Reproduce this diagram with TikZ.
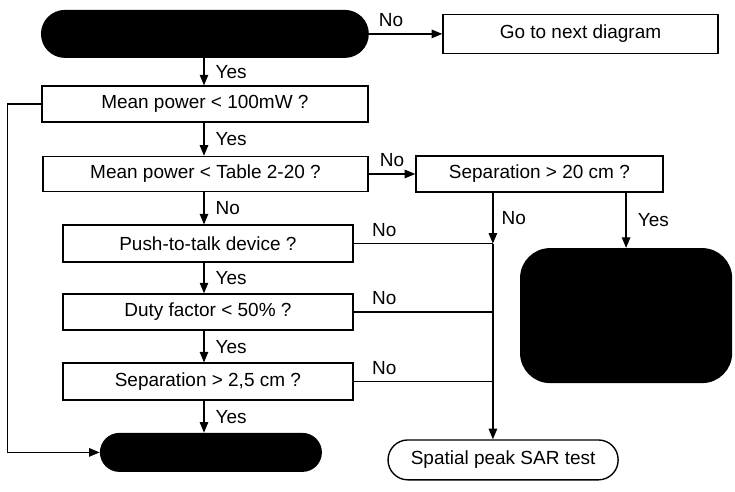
\documentclass[tikz,border=0pt]{standalone}
\usepackage{fontspec}
\setmainfont{Liberation Sans}
\usetikzlibrary{arrows.meta, positioning, calc}

\begin{document}
\begin{tikzpicture}[
    every node/.style={font=\fontsize{18}{21}\selectfont},
    qbox/.style={draw, line width=1.3pt, inner sep=0pt, align=center},
    blob/.style={fill=black, inner sep=0pt, rounded corners=#1},
    arr/.style={line width=1.2pt, -{Triangle[length=10pt,width=8pt]}},
    link/.style={line width=1.2pt},
    lbl/.style={inner sep=2pt}
  ]
    \useasboundingbox (0,0) rectangle (24.5,-16.4);

    % main column
    \node[blob=0.8cm, minimum width=10.93cm, minimum height=1.6cm] (start) at (6.83,-1.13) {};
    \node[qbox, minimum width=9.17cm, minimum height=1.3cm] (nextdiag) at (19.35,-1.13) {Go to next diagram};
    \node[qbox, minimum width=10.87cm, minimum height=1.2cm] (pmean) at (6.83,-3.47) {Mean power < 100mW ?};
    \node[qbox, minimum width=10.83cm, minimum height=1.17cm] (ptable) at (6.85,-5.8) {Mean power < Table 2-20 ?};
    \node[qbox, minimum width=9.67cm, minimum height=1.23cm] (ptt) at (6.93,-8.12) {Push-to-talk device ?};
    \node[qbox, minimum width=9.67cm, minimum height=1.2cm] (duty) at (6.93,-10.4) {Duty factor < 50\% ?};
    \node[qbox, minimum width=9.67cm, minimum height=1.23cm] (sepnear) at (6.93,-12.72) {Separation > 2,5 cm ?};
    \node[blob=0.65cm, minimum width=7.4cm, minimum height=1.3cm] (finish) at (7.03,-15.08) {};

    % right side
    \node[qbox, minimum width=8.23cm, minimum height=1.2cm] (sepfar) at (17.98,-5.8) {Separation > 20 cm ?};
    \node[blob=1cm, minimum width=7.07cm, minimum height=4.5cm] (farblob) at (20.87,-10.52) {};
    \node[draw, line width=1.3pt, rounded corners=0.66cm, minimum width=7.67cm,
          minimum height=1.33cm] (sar) at (16.77,-15.33) {Spatial peak SAR test};

    \coordinate (spine) at (6.8,0);
    \coordinate (bus) at (16.43,0);

    % connectors
    \draw[arr] (start.east) -- node[lbl, above=0.15cm, pos=0.3] {No} (nextdiag.west);
    \draw[arr] (spine |- start.south) -- node[lbl, right=0.3cm] {Yes} (spine |- pmean.north);
    \draw[arr] (spine |- pmean.south) -- node[lbl, right=0.3cm] {Yes} (spine |- ptable.north);
    \draw[arr] (spine |- ptable.south) -- node[lbl, right=0.3cm] {No} (spine |- ptt.north);
    \draw[arr] (spine |- ptt.south) -- node[lbl, right=0.3cm] {Yes} (spine |- duty.north);
    \draw[arr] (spine |- duty.south) -- node[lbl, right=0.3cm] {Yes} (spine |- sepnear.north);
    \draw[arr] (spine |- sepnear.south) -- node[lbl, right=0.3cm] {Yes} (spine |- finish.north);
    \draw[arr] (pmean.west) -- ++(-1.13,0) |- (finish.west);

    \draw[arr] (ptable.east) -- node[lbl, above=0.15cm] {No} (ptable.east -| sepfar.west);
    \draw[link] (ptt.east) -- node[lbl, above=0.15cm, pos=0.22] {No} (bus |- ptt);
    \draw[link] (duty.east) -- node[lbl, above=0.15cm, pos=0.22] {No} (bus |- duty);
    \draw[link] (sepnear.east) -- node[lbl, above=0.15cm, pos=0.22] {No} (bus |- sepnear);
    \draw[arr] (bus |- sepfar.south) -- node[lbl, right=0.2cm] {No} (bus |- ptt);
    \draw[arr] (bus |- ptt) -- (bus |- sar.north);
    \draw[arr] (sepfar.south -| farblob.north) -- node[lbl, right=0.3cm] {Yes} (farblob.north);
\end{tikzpicture}
\end{document}
